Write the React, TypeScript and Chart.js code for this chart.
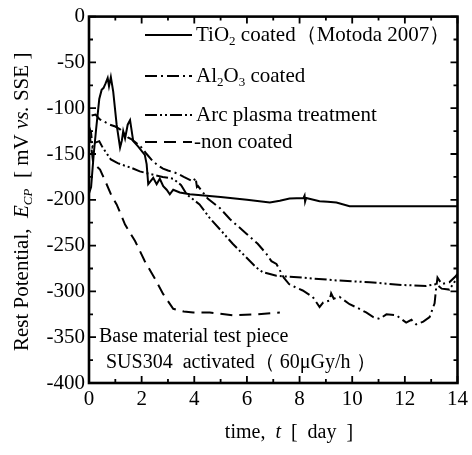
import React, { useEffect, useRef } from "react";
import { Chart, registerables } from "chart.js";

Chart.register(...registerables);

// ---- data (time in days, rest potential in mV vs. SSE) ----
const tio2Days = [0, 0.08, 0.18, 0.27, 0.39, 0.48, 0.55, 0.63, 0.71, 0.76, 0.83, 0.92, 1.05, 1.18, 1.25, 1.3, 1.37, 1.47, 1.56, 1.68, 1.87, 2.12, 2.19, 2.25, 2.44, 2.57, 2.69, 2.82, 2.95, 3.07, 3.2, 3.45, 3.83, 5.0, 6.0, 6.87, 7.25, 7.62, 8.15, 8.19, 8.21, 8.25, 8.76, 9.07, 9.4, 9.9, 14];
const tio2Values = [-193, -186, -150, -123, -90, -80, -78, -73, -67, -76, -66, -82, -118, -143, -135, -125, -133, -118, -113, -136, -142, -151, -161, -183, -176, -183, -177, -185, -189, -194, -189, -192, -194, -197, -200, -203, -201, -198.5, -198, -195.5, -202, -198, -201.5, -202, -203, -207, -207];

const al2o3Days = [0.1, 0.25, 0.4, 0.6, 0.8, 1.0, 1.18, 1.35, 1.48, 1.62, 1.8, 2.0, 2.19, 2.43, 2.6, 2.81, 3.0, 3.33, 3.6, 3.96, 4.05, 4.1, 4.14, 4.52, 4.97, 5.35, 5.98, 6.41, 6.74, 6.93, 7.12, 7.4, 7.6, 7.88, 8.12, 8.5, 8.76, 8.9, 9.14, 9.2, 9.3, 9.52, 9.9, 10.2, 10.53, 10.8, 11.04, 11.3, 11.67, 12.05, 12.25, 12.43, 12.7, 12.94, 13.13, 13.19, 13.24, 13.4, 13.69, 13.95, 14];
const al2o3Values = [-108, -107, -112, -115, -118, -120, -123, -128, -132, -134, -138, -143, -150, -158, -162, -166, -168, -171, -175, -180, -176, -186, -185, -199, -209, -221, -237, -248, -259, -267, -270, -285, -292, -296, -299, -306, -317, -312, -310, -302, -308, -306, -314, -318, -323, -328, -330, -325, -326, -334, -331, -336, -333, -328, -313, -296, -285, -292, -290, -283, -280];

const arcDays = [0, 0.08, 0.13, 0.2, 0.39, 0.52, 0.71, 0.83, 1.09, 1.28, 1.6, 1.93, 2.2, 2.5, 2.8, 3.2, 3.5, 3.71, 4.2, 4.59, 5.03, 5.46, 5.98, 6.36, 6.6, 7.12, 8.12, 9.4, 10.66, 11.92, 12.81, 13.19, 13.4, 13.69, 14];
const arcValues = [-120, -127, -142, -138, -136, -143, -151, -156, -160, -162, -165, -169, -171, -173, -175, -177, -184, -194, -205, -220, -234, -248, -263, -274, -279, -283, -285, -288, -290, -293, -294, -292, -297, -298, -285];

const nonDays = [0, 0.08, 0.16, 0.42, 0.67, 0.85, 1.05, 1.37, 1.75, 2.12, 2.5, 2.82, 3.2, 3.6, 3.96, 4.59, 5.46, 6.36, 7.25];
const nonValues = [-125, -140, -160, -167, -183, -195, -205, -227, -245, -267, -286, -303, -319, -322, -323, -323, -326, -325, -323];

const xMin = 0, xMax = 14, xMajor = 2, xMinor = 1;
const yMin = -400, yMax = 0, yMajor = 50, yMinor = 25;

type Seg = { t: string; it?: boolean; sub?: boolean };
const seriesNames: Seg[][] = [
  [{ t: "TiO" }, { t: "2", sub: true }, { t: " coated（Motoda 2007）" }],
  [{ t: "Al" }, { t: "2", sub: true }, { t: "O" }, { t: "3", sub: true }, { t: " coated" }],
  [{ t: "Arc plasma treatment" }],
  [{ t: "-non coated" }],
];
const seriesDashes: number[][] = [[], [12, 4, 2, 4], [12, 3, 2, 3, 2, 3], [12, 7]];
const xTitle: Seg[] = [{ t: "time,  " }, { t: "t", it: true }, { t: "  [  day  ]" }];
const yTitle: Seg[] = [{ t: "Rest Potential,  " }, { t: "E", it: true }, { t: "CP", it: true, sub: true }, { t: "  [ mV " }, { t: "vs.", it: true }, { t: " SSE ]" }];
const noteLines = ["Base material test piece", "SUS304  activated（ 60μGy/h ）"];

const FONT = "'Liberation Serif', 'Times New Roman', serif";

function fontFor(s: Seg, size: number) {
  const sz = s.sub ? Math.round(size * 0.62) : size;
  return `${s.it ? "italic " : ""}${sz}px ${FONT}`;
}
function richWidth(ctx: CanvasRenderingContext2D, segs: Seg[], size: number) {
  let w = 0;
  for (const s of segs) { ctx.font = fontFor(s, size); w += ctx.measureText(s.t).width; }
  return w;
}
function drawRich(ctx: CanvasRenderingContext2D, segs: Seg[], x: number, y: number, size: number) {
  ctx.textBaseline = "middle";
  ctx.textAlign = "left";
  let cx = x;
  for (const s of segs) {
    ctx.font = fontFor(s, size);
    ctx.fillText(s.t, cx, s.sub ? y + size * 0.3 : y);
    cx += ctx.measureText(s.t).width;
  }
}

const framePlugin = {
  id: "frame",
  afterDraw(chart: any) {
    const { ctx, chartArea: a, scales } = chart;
    const xs = scales.x, ys = scales.y;
    ctx.save();
    ctx.strokeStyle = "#000";
    ctx.fillStyle = "#000";
    ctx.setLineDash([]);
    // inward ticks
    ctx.lineWidth = 1.8;
    for (let v = xMin; v <= xMax; v += xMinor) {
      const px = xs.getPixelForValue(v);
      const len = v % xMajor === 0 ? 7 : 4;
      ctx.beginPath();
      ctx.moveTo(px, a.bottom); ctx.lineTo(px, a.bottom - len);
      ctx.moveTo(px, a.top); ctx.lineTo(px, a.top + len);
      ctx.stroke();
    }
    for (let v = yMin; v <= yMax; v += yMinor) {
      const py = ys.getPixelForValue(v);
      const len = v % yMajor === 0 ? 7 : 4;
      ctx.beginPath();
      ctx.moveTo(a.left, py); ctx.lineTo(a.left + len, py);
      ctx.moveTo(a.right, py); ctx.lineTo(a.right - len, py);
      ctx.stroke();
    }
    // frame
    ctx.lineWidth = 2.6;
    ctx.strokeRect(a.left, a.top, a.right - a.left, a.bottom - a.top);

    // legend
    const legY = [35, 76, 115, 142];
    for (let i = 0; i < seriesNames.length; i++) {
      ctx.lineWidth = 2;
      ctx.setLineDash(seriesDashes[i]);
      ctx.beginPath();
      ctx.moveTo(145, legY[i]);
      ctx.lineTo(192, legY[i]);
      ctx.stroke();
      ctx.setLineDash([]);
      drawRich(ctx, seriesNames[i], i === 3 ? 194 : 196, legY[i], 21);
    }

    // note
    ctx.font = `20px ${FONT}`;
    ctx.textBaseline = "middle";
    ctx.textAlign = "left";
    ctx.fillText(noteLines[0], 99, 337);
    ctx.fillText(noteLines[1], 106, 363);

    // x title
    const xw = richWidth(ctx, xTitle, 20);
    drawRich(ctx, xTitle, 289 - xw / 2, 433, 20);

    // y title
    ctx.translate(22, (a.top + a.bottom) / 2 + 2);
    ctx.rotate(-Math.PI / 2);
    const yw = richWidth(ctx, yTitle, 21);
    drawRich(ctx, yTitle, -yw / 2, 0, 21);
    ctx.restore();
  },
};

function pts(xs: number[], ys: number[]) {
  return xs.map((x, i) => ({ x, y: ys[i] }));
}

export default function App() {
  const ref = useRef<HTMLCanvasElement | null>(null);
  useEffect(() => {
    if (!ref.current) return;
    const mk = (data: { x: number; y: number }[], dash: number[]) => ({
      data,
      borderColor: "#000",
      backgroundColor: "#000",
      borderWidth: 2,
      borderDash: dash,
      pointRadius: 0,
      showLine: true,
      tension: 0,
      fill: false,
    });
    const chart = new Chart(ref.current, {
      type: "scatter",
      data: {
        datasets: [
          mk(pts(tio2Days, tio2Values), seriesDashes[0]),
          mk(pts(al2o3Days, al2o3Values), seriesDashes[1]),
          mk(pts(arcDays, arcValues), seriesDashes[2]),
          mk(pts(nonDays, nonValues), seriesDashes[3]),
        ],
      },
      options: {
        animation: false,
        responsive: false,
        layout: { padding: { top: 15, right: 14, left: 0, bottom: 0 } },
        plugins: { legend: { display: false }, tooltip: { enabled: false } },
        scales: {
          x: {
            type: "linear",
            min: xMin,
            max: xMax,
            grid: { display: false, drawTicks: false },
            border: { display: false },
            ticks: { stepSize: xMajor, padding: 4, color: "#000", font: { family: FONT, size: 21 } },
            afterFit: (s: any) => { s.height = 72; },
          },
          y: {
            type: "linear",
            min: yMin,
            max: yMax,
            grid: { display: false, drawTicks: false },
            border: { display: false },
            ticks: { stepSize: yMajor, padding: 4, color: "#000", font: { family: FONT, size: 21 } },
            afterFit: (s: any) => { s.width = 89; },
          },
        },
      },
      plugins: [framePlugin],
    });
    return () => chart.destroy();
  }, []);
  return (
    <div style={{ position: "fixed", left: 0, top: 0, width: 472, height: 455, background: "#fff" }}>
      <canvas ref={ref} width={472} height={455} style={{ display: "block", width: 472, height: 455 }} />
    </div>
  );
}
